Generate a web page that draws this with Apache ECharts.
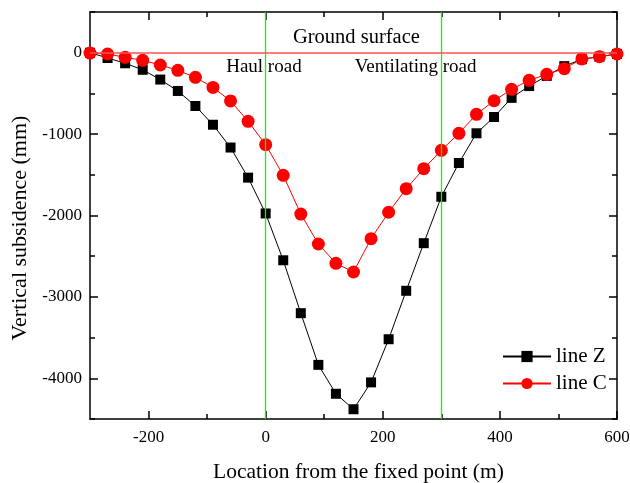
<!DOCTYPE html>
<html><head><meta charset="utf-8">
<script src="https://cdn.jsdelivr.net/npm/echarts@6/dist/echarts.min.js"></script>
<style>html,body{margin:0;padding:0;background:#fff}#c{width:630px;height:483px}</style>
</head><body><div id="c"></div>
<script>
const locations = [-300,-270,-240,-210,-180,-150,-120,-90,-60,-30,0,30,60,90,120,150,180,210,240,270,300,330,360,390,420,450,480,510,540,570,600];
const lineZ = [0,-65,-130,-210,-330,-470,-655,-885,-1165,-1535,-1975,-2550,-3200,-3835,-4190,-4380,-4050,-3520,-2925,-2340,-1770,-1355,-990,-790,-555,-410,-285,-165,-80,-50,-15];
const lineC = [-5,-16,-57,-94,-151,-217,-303,-426,-593,-843,-1130,-1506,-1982,-2350,-2588,-2694,-2285,-1960,-1671,-1425,-1199,-990,-757,-590,-450,-339,-266,-196,-77,-49,-16];
const seriesNames = ['line Z','line C'];
const xMajorTicks = [-200,0,200,400,600];
const xMinorTicks = [-100,100,300,500];
const yMajorTicks = [0,-1000,-2000,-3000,-4000];
const yMinorTicks = [500,-500,-1500,-2500,-3500,-4500];
const roadLines = [0,300];
const groundLevel = 0;
const annotations = [
  {text:'Ground surface', x:155, y:180},
  {text:'Haul road', x:-3, y:-176},
  {text:'Ventilating road', x:256, y:-176}
];

const FONT = '"Liberation Serif","Times New Roman",serif';
const chart = echarts.init(document.getElementById('c'), null, {renderer:'canvas'});
const gridBox = {left:90, right:13, top:12, bottom:64, containLabel:false, outerBoundsMode:'none'};
const grids = [0,1,2,3].map(()=>Object.assign({}, gridBox));
const axisLineStyle = {color:'#000', width:1.5};
function xAx(i, pos, ticks, len, extra){
  return Object.assign({type:'value', gridIndex:i, position:pos, min:-300, max:600,
    axisLine:{show:i<2, onZero:false, lineStyle:axisLineStyle},
    axisTick:{show:true, inside:true, length:len, customValues:ticks, lineStyle:{color:'#000', width:1.5}},
    axisLabel:{show:false}, splitLine:{show:false}}, extra||{});
}
function yAx(i, pos, ticks, len, extra){
  return Object.assign({type:'value', gridIndex:i, position:pos, min:-4500, max:500,
    axisLine:{show:i<2, onZero:false, lineStyle:axisLineStyle},
    axisTick:{show:true, inside:true, length:len, customValues:ticks, lineStyle:{color:'#000', width:1.5}},
    axisLabel:{show:false}, splitLine:{show:false}}, extra||{});
}
const plain = v => String(v);
const option = {
  animation:false,
  backgroundColor:'#fff',
  grid: grids,
  xAxis: [
    xAx(0,'bottom',xMajorTicks,8,{
      axisLabel:{show:true, customValues:xMajorTicks, formatter:plain, margin:10, color:'#000', fontFamily:FONT, fontSize:17},
      name:'Location from the fixed point (m)', nameLocation:'middle', nameGap:42,
      nameTextStyle:{fontFamily:FONT, fontSize:21.5, color:'#000', padding:[0,0,0,10]}
    }),
    xAx(1,'top',xMajorTicks,8),
    xAx(2,'bottom',xMinorTicks,5),
    xAx(3,'top',xMinorTicks,5)
  ],
  yAxis: [
    yAx(0,'left',yMajorTicks,8,{
      axisLabel:{show:true, customValues:yMajorTicks, formatter:plain, margin:8, color:'#000', fontFamily:FONT, fontSize:17},
      name:'Vertical subsidence (mm)', nameLocation:'middle', nameGap:56,
      nameTextStyle:{fontFamily:FONT, fontSize:22, color:'#000', padding:[0,25,0,0]}
    }),
    yAx(1,'right',yMajorTicks,8),
    yAx(2,'left',yMinorTicks,5),
    yAx(3,'right',yMinorTicks,5)
  ],
  legend: {
    orient:'vertical', left:502, top:346, padding:0,
    itemWidth:48, itemHeight:14, itemGap:6,
    textStyle:{fontFamily:FONT, fontSize:21, color:'#000', lineHeight:21},
    data: seriesNames
  },
  series: [
    {
      name:'roads', type:'line', xAxisIndex:0, yAxisIndex:0, data:[],
      color:'#00ff00', itemStyle:{color:'#00ff00'}, lineStyle:{color:'#00ff00'}, z:1,
      markLine:{
        silent:true, symbol:['none','none'], label:{show:false},
        emphasis:{disabled:true},
        lineStyle:{color:'#00ff00', width:1.3, type:'solid', opacity:1},
        data: roadLines.map(v=>({xAxis:v}))
      }
    },
    {
      name: seriesNames[0], type:'line', xAxisIndex:0, yAxisIndex:0,
      data: locations.map((x,i)=>[x, lineZ[i]]),
      symbol:'rect', symbolSize:10,
      itemStyle:{color:'#000'}, lineStyle:{color:'#000', width:1},
      z:2
    },
    {
      name: seriesNames[1], type:'line', xAxisIndex:0, yAxisIndex:0,
      data: locations.map((x,i)=>[x, lineC[i]]),
      symbol:'circle', symbolSize:13,
      itemStyle:{color:'#ff0000'}, lineStyle:{color:'#ff0000', width:1},
      z:3,
      markLine:{
        silent:true, symbol:['none','none'], label:{show:false},
        emphasis:{disabled:true},
        lineStyle:{color:'#ff5050', width:1.5, type:'solid', opacity:1},
        data: [{yAxis: groundLevel}]
      }
    }
  ]
};
chart.setOption(option);
const sizes = [20.5, 19, 19];
chart.setOption({
  graphic: annotations.map((a,i)=>{
    const p = chart.convertToPixel({xAxisIndex:0, yAxisIndex:0}, [a.x, a.y]);
    return {type:'text', x:p[0], y:p[1], z:10, silent:true,
      style:{text:a.text, textAlign:'center', textVerticalAlign:'middle',
        font: sizes[i] + 'px ' + FONT, fill:'#000'}};
  })
});
</script>
</body></html>
